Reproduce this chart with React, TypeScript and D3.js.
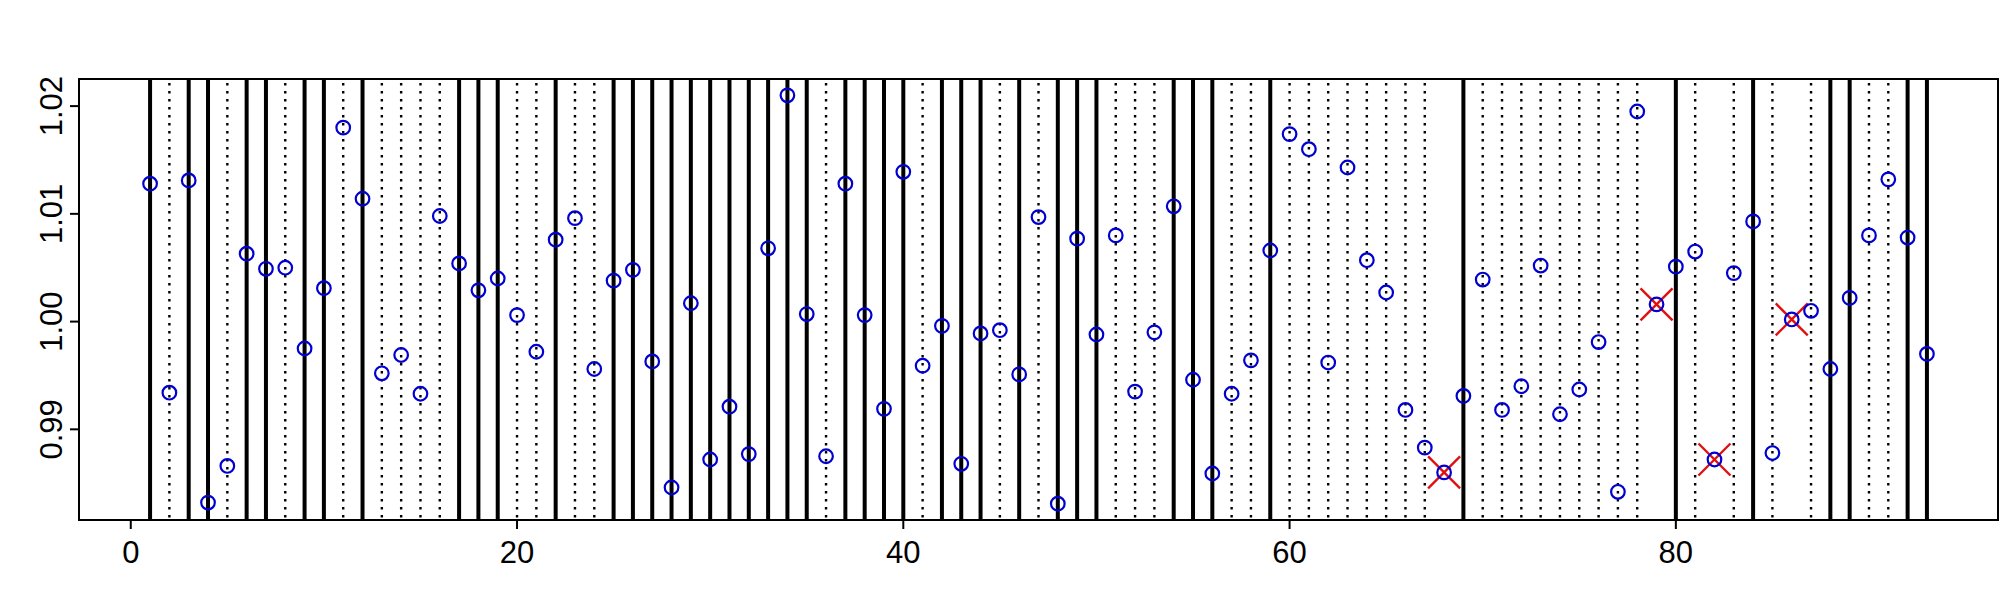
import { useEffect, useRef } from "react";
import * as d3 from "d3";

// observed values, index 1..93
const values = [
  1.0128, 0.9934, 1.0131, 0.9832, 0.9866, 1.0063, 1.0049, 1.005, 0.9975, 1.0031,
  1.018, 1.0114, 0.9952, 0.9969, 0.9933, 1.0098, 1.0054, 1.0029, 1.004, 1.0006,
  0.9972, 1.0076, 1.0096, 0.9956, 1.0038, 1.0048, 0.9963, 0.9846, 1.0017, 0.9872,
  0.9921, 0.9877, 1.0068, 1.021, 1.0007, 0.9875, 1.0128, 1.0006, 0.9919, 1.0139,
  0.9959, 0.9996, 0.9868, 0.9989, 0.9992, 0.9951, 1.0097, 0.9831, 1.0077, 0.9988,
  1.008, 0.9935, 0.999, 1.0107, 0.9946, 0.9859, 0.9933, 0.9964, 1.0066, 1.0174,
  1.016, 0.9962, 1.0143, 1.0057, 1.0027, 0.9918, 0.9883, 0.986, 0.9931, 1.0039,
  0.9918, 0.994, 1.0052, 0.9914, 0.9937, 0.9981, 0.9842, 1.0195, 1.0016, 1.0051,
  1.0065, 0.9872, 1.0045, 1.0093, 0.9878, 1.0002, 1.001, 0.9956, 1.0022, 1.008,
  1.0132, 1.0078, 0.997,
];

// indices with a solid marker line, and flagged ones (no line, red cross)
const solidLines = [
  1, 3, 4, 6, 7, 9, 10, 12, 17, 18, 19, 22, 25, 26, 27, 28, 29, 30, 31, 32, 33,
  34, 35, 37, 38, 39, 40, 42, 43, 44, 46, 48, 49, 50, 54, 55, 56, 59, 69, 80, 84,
  88, 89, 92, 93,
];
const flagged = [68, 79, 82, 86];

const xTicks = [0, 20, 40, 60, 80];
const yTicks = [0.99, 1.0, 1.01, 1.02];

export default function App() {
  const svgRef = useRef(null);

  useEffect(() => {
    const width = 2000;
    const height = 600;
    const left = 79, right = 1998, top = 79, bottom = 520;
    const font = "Liberation Sans, Arial, sans-serif";

    const data = values.map((v, i) => ({ idx: i + 1, v }));

    const svg = d3.select(svgRef.current);
    svg.selectAll("*").remove();
    svg.attr("width", width).attr("height", height);

    // R-style 4% padding
    const n = values.length;
    const xPad = (n - 1) * 0.04;
    const x = d3.scaleLinear().domain([1 - xPad, n + xPad]).range([left, right]);
    const [ymin, ymax] = d3.extent(values) as [number, number];
    const yPad = (ymax - ymin) * 0.04;
    const y = d3.scaleLinear().domain([ymin - yPad, ymax + yPad]).range([bottom, top]);

    const lineData = data.filter(d => !flagged.includes(d.idx));
    const isSolid = (i: number) => solidLines.includes(i);

    svg.append("g")
      .selectAll("line")
      .data(lineData)
      .join("line")
      .attr("x1", d => x(d.idx))
      .attr("x2", d => x(d.idx))
      .attr("y1", top)
      .attr("y2", bottom)
      .attr("stroke", "#000")
      .attr("stroke-width", d => (isSolid(d.idx) ? 4 : 2.4))
      .attr("stroke-dasharray", d => (isSolid(d.idx) ? null : "2.6 5.4"))
      .attr("stroke-dashoffset", d => (isSolid(d.idx) ? null : 4));

    // red crosses
    const s = 16;
    const cross = svg.append("g")
      .selectAll("g")
      .data(data.filter(d => flagged.includes(d.idx)))
      .join("g")
      .attr("transform", d => `translate(${x(d.idx)},${y(d.v)})`);
    cross.append("line").attr("x1", -s).attr("y1", -s).attr("x2", s).attr("y2", s);
    cross.append("line").attr("x1", -s).attr("y1", s).attr("x2", s).attr("y2", -s);
    cross.selectAll("line").attr("stroke", "#e01010").attr("stroke-width", 2.4);

    svg.append("g")
      .selectAll("circle")
      .data(data)
      .join("circle")
      .attr("cx", d => x(d.idx))
      .attr("cy", d => y(d.v))
      .attr("r", 6.8)
      .attr("fill", "none")
      .attr("stroke", "#0000d0")
      .attr("stroke-width", 2.2);

    // box
    svg.append("rect")
      .attr("x", left).attr("y", top)
      .attr("width", right - left).attr("height", bottom - top)
      .attr("fill", "none").attr("stroke", "#000").attr("stroke-width", 2);

    // x axis
    const xa = svg.append("g");
    xa.selectAll("line")
      .data(xTicks)
      .join("line")
      .attr("x1", d => x(d)).attr("x2", d => x(d))
      .attr("y1", bottom).attr("y2", bottom + 9)
      .attr("stroke", "#000").attr("stroke-width", 2);
    xa.selectAll("text")
      .data(xTicks)
      .join("text")
      .attr("x", d => x(d))
      .attr("y", 563)
      .attr("text-anchor", "middle")
      .attr("font-family", font)
      .attr("font-size", 31)
      .text(d => String(d));

    // y axis
    const ya = svg.append("g");
    ya.selectAll("line")
      .data(yTicks)
      .join("line")
      .attr("x1", left - 9).attr("x2", left)
      .attr("y1", d => y(d)).attr("y2", d => y(d))
      .attr("stroke", "#000").attr("stroke-width", 2);
    ya.selectAll("text")
      .data(yTicks)
      .join("text")
      .attr("transform", d => `translate(62,${y(d)}) rotate(-90)`)
      .attr("text-anchor", "middle")
      .attr("font-family", font)
      .attr("font-size", 31)
      .text(d => d.toFixed(2));
  }, []);

  return (
    <div style={{ position: "absolute", left: 0, top: 0, background: "#fff" }}>
      <svg ref={svgRef}></svg>
    </div>
  );
}
